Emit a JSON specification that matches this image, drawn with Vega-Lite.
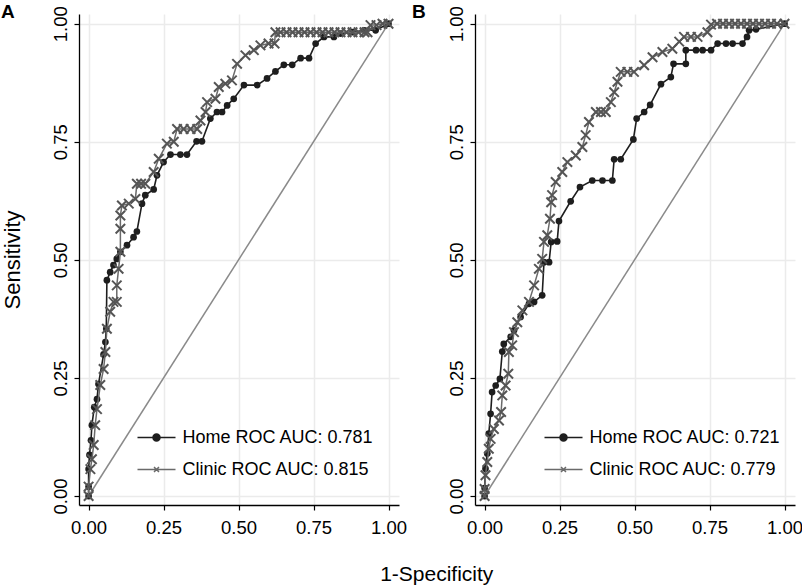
{
  "$schema": "https://vega.github.io/schema/vega-lite/v6.json",
  "background": "white",
  "padding": {"left": 0, "top": 2, "right": 0, "bottom": 2},
  "bounds": "flush",
  "spacing": 76,
  "config": {
    "font": "Liberation Sans",
    "view": {"stroke": null},
    "axis": {
      "domainColor": "#000", "domainWidth": 1.3,
      "tickColor": "#000", "tickSize": 5, "tickWidth": 1.2,
      "labelFontSize": 18.5, "labelColor": "#000", "labelFont": "Liberation Sans",
      "gridColor": "#ebebeb", "gridWidth": 1.5,
      "titleFontSize": 22, "titleFontWeight": "normal", "titleColor": "#000", "titleFont": "Liberation Sans"
    },
    "axisX": {"labelPadding": 8},
    "axisY": {"labelPadding": 4, "titlePadding": 27},
    "legend": {"labelFont": "Liberation Sans", "labelColor": "#000", "labelLimit": 0}
  },
  "title": {"text": "1-Specificity", "orient": "bottom", "anchor": "middle", "frame": "bounds", "dx": 35, "fontSize": 21, "fontWeight": "normal", "offset": 27, "color": "#000", "font": "Liberation Sans"},
  "datasets": {
    "A": [
      {"series":"Home","i":0,"fpr":0,"tpr":0},{"series":"Home","i":1,"fpr":0,"tpr":0.02},{"series":"Home","i":2,"fpr":0,"tpr":0.057},{"series":"Home","i":3,"fpr":0.003,"tpr":0.087},{"series":"Home","i":4,"fpr":0.008,"tpr":0.118},{"series":"Home","i":5,"fpr":0.011,"tpr":0.15},{"series":"Home","i":6,"fpr":0.019,"tpr":0.188},{"series":"Home","i":7,"fpr":0.028,"tpr":0.205},{"series":"Home","i":8,"fpr":0.033,"tpr":0.237},{"series":"Home","i":9,"fpr":0.05,"tpr":0.3},{"series":"Home","i":10,"fpr":0.056,"tpr":0.326},{"series":"Home","i":11,"fpr":0.059,"tpr":0.354},{"series":"Home","i":12,"fpr":0.061,"tpr":0.457},{"series":"Home","i":13,"fpr":0.072,"tpr":0.474},{"series":"Home","i":14,"fpr":0.083,"tpr":0.489},{"series":"Home","i":15,"fpr":0.094,"tpr":0.502},{"series":"Home","i":16,"fpr":0.106,"tpr":0.517},{"series":"Home","i":17,"fpr":0.128,"tpr":0.531},{"series":"Home","i":18,"fpr":0.15,"tpr":0.548},{"series":"Home","i":19,"fpr":0.161,"tpr":0.56},{"series":"Home","i":20,"fpr":0.178,"tpr":0.619},{"series":"Home","i":21,"fpr":0.189,"tpr":0.637},{"series":"Home","i":22,"fpr":0.217,"tpr":0.649},{"series":"Home","i":23,"fpr":0.228,"tpr":0.679},{"series":"Home","i":24,"fpr":0.25,"tpr":0.707},{"series":"Home","i":25,"fpr":0.273,"tpr":0.723},{"series":"Home","i":26,"fpr":0.306,"tpr":0.723},{"series":"Home","i":27,"fpr":0.328,"tpr":0.723},{"series":"Home","i":28,"fpr":0.36,"tpr":0.751},{"series":"Home","i":29,"fpr":0.378,"tpr":0.751},{"series":"Home","i":30,"fpr":0.406,"tpr":0.799},{"series":"Home","i":31,"fpr":0.428,"tpr":0.813},{"series":"Home","i":32,"fpr":0.445,"tpr":0.813},{"series":"Home","i":33,"fpr":0.462,"tpr":0.827},{"series":"Home","i":34,"fpr":0.484,"tpr":0.841},{"series":"Home","i":35,"fpr":0.518,"tpr":0.87},{"series":"Home","i":36,"fpr":0.562,"tpr":0.87},{"series":"Home","i":37,"fpr":0.595,"tpr":0.884},{"series":"Home","i":38,"fpr":0.623,"tpr":0.899},{"series":"Home","i":39,"fpr":0.651,"tpr":0.913},{"series":"Home","i":40,"fpr":0.679,"tpr":0.913},{"series":"Home","i":41,"fpr":0.707,"tpr":0.927},{"series":"Home","i":42,"fpr":0.735,"tpr":0.927},{"series":"Home","i":43,"fpr":0.757,"tpr":0.958},{"series":"Home","i":44,"fpr":0.785,"tpr":0.972},{"series":"Home","i":45,"fpr":0.818,"tpr":0.972},{"series":"Home","i":46,"fpr":0.84,"tpr":0.979},{"series":"Home","i":47,"fpr":0.88,"tpr":0.982},{"series":"Home","i":48,"fpr":0.92,"tpr":0.986},{"series":"Home","i":49,"fpr":0.957,"tpr":0.986},{"series":"Home","i":50,"fpr":1,"tpr":1},
      {"series":"Clinic","i":0,"fpr":0,"tpr":0},{"series":"Clinic","i":1,"fpr":0,"tpr":0.02},{"series":"Clinic","i":2,"fpr":0.006,"tpr":0.057},{"series":"Clinic","i":3,"fpr":0.011,"tpr":0.078},{"series":"Clinic","i":4,"fpr":0.017,"tpr":0.108},{"series":"Clinic","i":5,"fpr":0.022,"tpr":0.15},{"series":"Clinic","i":6,"fpr":0.028,"tpr":0.184},{"series":"Clinic","i":7,"fpr":0.039,"tpr":0.235},{"series":"Clinic","i":8,"fpr":0.05,"tpr":0.269},{"series":"Clinic","i":9,"fpr":0.056,"tpr":0.305},{"series":"Clinic","i":10,"fpr":0.061,"tpr":0.354},{"series":"Clinic","i":11,"fpr":0.072,"tpr":0.39},{"series":"Clinic","i":12,"fpr":0.083,"tpr":0.411},{"series":"Clinic","i":13,"fpr":0.094,"tpr":0.411},{"series":"Clinic","i":14,"fpr":0.094,"tpr":0.446},{"series":"Clinic","i":15,"fpr":0.1,"tpr":0.481},{"series":"Clinic","i":16,"fpr":0.106,"tpr":0.517},{"series":"Clinic","i":17,"fpr":0.106,"tpr":0.566},{"series":"Clinic","i":18,"fpr":0.106,"tpr":0.594},{"series":"Clinic","i":19,"fpr":0.111,"tpr":0.615},{"series":"Clinic","i":20,"fpr":0.134,"tpr":0.619},{"series":"Clinic","i":21,"fpr":0.156,"tpr":0.629},{"series":"Clinic","i":22,"fpr":0.161,"tpr":0.661},{"series":"Clinic","i":23,"fpr":0.175,"tpr":0.661},{"series":"Clinic","i":24,"fpr":0.189,"tpr":0.661},{"series":"Clinic","i":25,"fpr":0.217,"tpr":0.686},{"series":"Clinic","i":26,"fpr":0.234,"tpr":0.714},{"series":"Clinic","i":27,"fpr":0.261,"tpr":0.746},{"series":"Clinic","i":28,"fpr":0.284,"tpr":0.75},{"series":"Clinic","i":29,"fpr":0.295,"tpr":0.777},{"series":"Clinic","i":30,"fpr":0.317,"tpr":0.777},{"series":"Clinic","i":31,"fpr":0.34,"tpr":0.777},{"series":"Clinic","i":32,"fpr":0.362,"tpr":0.777},{"series":"Clinic","i":33,"fpr":0.373,"tpr":0.795},{"series":"Clinic","i":34,"fpr":0.39,"tpr":0.813},{"series":"Clinic","i":35,"fpr":0.395,"tpr":0.834},{"series":"Clinic","i":36,"fpr":0.423,"tpr":0.841},{"series":"Clinic","i":37,"fpr":0.434,"tpr":0.866},{"series":"Clinic","i":38,"fpr":0.456,"tpr":0.873},{"series":"Clinic","i":39,"fpr":0.478,"tpr":0.88},{"series":"Clinic","i":40,"fpr":0.495,"tpr":0.915},{"series":"Clinic","i":41,"fpr":0.523,"tpr":0.933},{"series":"Clinic","i":42,"fpr":0.551,"tpr":0.944},{"series":"Clinic","i":43,"fpr":0.573,"tpr":0.954},{"series":"Clinic","i":44,"fpr":0.6,"tpr":0.958},{"series":"Clinic","i":45,"fpr":0.62,"tpr":0.958},{"series":"Clinic","i":46,"fpr":0.623,"tpr":0.982},{"series":"Clinic","i":47,"fpr":0.64,"tpr":0.982},{"series":"Clinic","i":48,"fpr":0.66,"tpr":0.982},{"series":"Clinic","i":49,"fpr":0.68,"tpr":0.982},{"series":"Clinic","i":50,"fpr":0.7,"tpr":0.982},{"series":"Clinic","i":51,"fpr":0.72,"tpr":0.982},{"series":"Clinic","i":52,"fpr":0.74,"tpr":0.982},{"series":"Clinic","i":53,"fpr":0.76,"tpr":0.982},{"series":"Clinic","i":54,"fpr":0.78,"tpr":0.982},{"series":"Clinic","i":55,"fpr":0.8,"tpr":0.982},{"series":"Clinic","i":56,"fpr":0.82,"tpr":0.982},{"series":"Clinic","i":57,"fpr":0.84,"tpr":0.982},{"series":"Clinic","i":58,"fpr":0.86,"tpr":0.982},{"series":"Clinic","i":59,"fpr":0.88,"tpr":0.982},{"series":"Clinic","i":60,"fpr":0.9,"tpr":0.982},{"series":"Clinic","i":61,"fpr":0.92,"tpr":0.982},{"series":"Clinic","i":62,"fpr":0.93,"tpr":0.982},{"series":"Clinic","i":63,"fpr":0.94,"tpr":0.997},{"series":"Clinic","i":64,"fpr":0.96,"tpr":0.997},{"series":"Clinic","i":65,"fpr":0.98,"tpr":1},{"series":"Clinic","i":66,"fpr":1,"tpr":1}
    ],
    "B": [
      {"series":"Home","i":0,"fpr":0,"tpr":0},{"series":"Home","i":1,"fpr":0,"tpr":0.017},{"series":"Home","i":2,"fpr":0.003,"tpr":0.058},{"series":"Home","i":3,"fpr":0.009,"tpr":0.09},{"series":"Home","i":4,"fpr":0.014,"tpr":0.132},{"series":"Home","i":5,"fpr":0.02,"tpr":0.174},{"series":"Home","i":6,"fpr":0.025,"tpr":0.22},{"series":"Home","i":7,"fpr":0.037,"tpr":0.234},{"series":"Home","i":8,"fpr":0.051,"tpr":0.248},{"series":"Home","i":9,"fpr":0.059,"tpr":0.306},{"series":"Home","i":10,"fpr":0.064,"tpr":0.322},{"series":"Home","i":11,"fpr":0.087,"tpr":0.337},{"series":"Home","i":12,"fpr":0.098,"tpr":0.351},{"series":"Home","i":13,"fpr":0.12,"tpr":0.379},{"series":"Home","i":14,"fpr":0.148,"tpr":0.407},{"series":"Home","i":15,"fpr":0.165,"tpr":0.411},{"series":"Home","i":16,"fpr":0.192,"tpr":0.425},{"series":"Home","i":17,"fpr":0.198,"tpr":0.495},{"series":"Home","i":18,"fpr":0.215,"tpr":0.495},{"series":"Home","i":19,"fpr":0.222,"tpr":0.538},{"series":"Home","i":20,"fpr":0.242,"tpr":0.539},{"series":"Home","i":21,"fpr":0.248,"tpr":0.582},{"series":"Home","i":22,"fpr":0.287,"tpr":0.624},{"series":"Home","i":23,"fpr":0.318,"tpr":0.654},{"series":"Home","i":24,"fpr":0.359,"tpr":0.668},{"series":"Home","i":25,"fpr":0.393,"tpr":0.668},{"series":"Home","i":26,"fpr":0.426,"tpr":0.668},{"series":"Home","i":27,"fpr":0.432,"tpr":0.713},{"series":"Home","i":28,"fpr":0.454,"tpr":0.713},{"series":"Home","i":29,"fpr":0.496,"tpr":0.755},{"series":"Home","i":30,"fpr":0.507,"tpr":0.799},{"series":"Home","i":31,"fpr":0.532,"tpr":0.813},{"series":"Home","i":32,"fpr":0.552,"tpr":0.828},{"series":"Home","i":33,"fpr":0.588,"tpr":0.872},{"series":"Home","i":34,"fpr":0.621,"tpr":0.887},{"series":"Home","i":35,"fpr":0.63,"tpr":0.915},{"series":"Home","i":36,"fpr":0.671,"tpr":0.915},{"series":"Home","i":37,"fpr":0.671,"tpr":0.944},{"series":"Home","i":38,"fpr":0.705,"tpr":0.944},{"series":"Home","i":39,"fpr":0.727,"tpr":0.944},{"series":"Home","i":40,"fpr":0.755,"tpr":0.944},{"series":"Home","i":41,"fpr":0.777,"tpr":0.958},{"series":"Home","i":42,"fpr":0.805,"tpr":0.958},{"series":"Home","i":43,"fpr":0.827,"tpr":0.958},{"series":"Home","i":44,"fpr":0.86,"tpr":0.958},{"series":"Home","i":45,"fpr":0.875,"tpr":0.972},{"series":"Home","i":46,"fpr":0.882,"tpr":0.986},{"series":"Home","i":47,"fpr":0.905,"tpr":0.988},{"series":"Home","i":48,"fpr":1,"tpr":1},
      {"series":"Clinic","i":0,"fpr":0,"tpr":0},{"series":"Clinic","i":1,"fpr":0,"tpr":0.015},{"series":"Clinic","i":2,"fpr":0.003,"tpr":0.044},{"series":"Clinic","i":3,"fpr":0.009,"tpr":0.072},{"series":"Clinic","i":4,"fpr":0.014,"tpr":0.1},{"series":"Clinic","i":5,"fpr":0.02,"tpr":0.121},{"series":"Clinic","i":6,"fpr":0.031,"tpr":0.142},{"series":"Clinic","i":7,"fpr":0.048,"tpr":0.16},{"series":"Clinic","i":8,"fpr":0.055,"tpr":0.178},{"series":"Clinic","i":9,"fpr":0.059,"tpr":0.213},{"series":"Clinic","i":10,"fpr":0.07,"tpr":0.234},{"series":"Clinic","i":11,"fpr":0.079,"tpr":0.259},{"series":"Clinic","i":12,"fpr":0.081,"tpr":0.305},{"series":"Clinic","i":13,"fpr":0.092,"tpr":0.319},{"series":"Clinic","i":14,"fpr":0.098,"tpr":0.347},{"series":"Clinic","i":15,"fpr":0.109,"tpr":0.368},{"series":"Clinic","i":16,"fpr":0.126,"tpr":0.393},{"series":"Clinic","i":17,"fpr":0.148,"tpr":0.411},{"series":"Clinic","i":18,"fpr":0.165,"tpr":0.446},{"series":"Clinic","i":19,"fpr":0.181,"tpr":0.481},{"series":"Clinic","i":20,"fpr":0.192,"tpr":0.502},{"series":"Clinic","i":21,"fpr":0.198,"tpr":0.538},{"series":"Clinic","i":22,"fpr":0.209,"tpr":0.552},{"series":"Clinic","i":23,"fpr":0.218,"tpr":0.587},{"series":"Clinic","i":24,"fpr":0.222,"tpr":0.622},{"series":"Clinic","i":25,"fpr":0.225,"tpr":0.637},{"series":"Clinic","i":26,"fpr":0.237,"tpr":0.665},{"series":"Clinic","i":27,"fpr":0.259,"tpr":0.686},{"series":"Clinic","i":28,"fpr":0.276,"tpr":0.707},{"series":"Clinic","i":29,"fpr":0.304,"tpr":0.721},{"series":"Clinic","i":30,"fpr":0.326,"tpr":0.739},{"series":"Clinic","i":31,"fpr":0.337,"tpr":0.764},{"series":"Clinic","i":32,"fpr":0.348,"tpr":0.792},{"series":"Clinic","i":33,"fpr":0.371,"tpr":0.813},{"series":"Clinic","i":34,"fpr":0.388,"tpr":0.813},{"series":"Clinic","i":35,"fpr":0.404,"tpr":0.813},{"series":"Clinic","i":36,"fpr":0.421,"tpr":0.834},{"series":"Clinic","i":37,"fpr":0.432,"tpr":0.855},{"series":"Clinic","i":38,"fpr":0.443,"tpr":0.877},{"series":"Clinic","i":39,"fpr":0.454,"tpr":0.898},{"series":"Clinic","i":40,"fpr":0.476,"tpr":0.898},{"series":"Clinic","i":41,"fpr":0.498,"tpr":0.898},{"series":"Clinic","i":42,"fpr":0.532,"tpr":0.912},{"series":"Clinic","i":43,"fpr":0.56,"tpr":0.929},{"series":"Clinic","i":44,"fpr":0.593,"tpr":0.94},{"series":"Clinic","i":45,"fpr":0.626,"tpr":0.947},{"series":"Clinic","i":46,"fpr":0.649,"tpr":0.962},{"series":"Clinic","i":47,"fpr":0.665,"tpr":0.972},{"series":"Clinic","i":48,"fpr":0.688,"tpr":0.972},{"series":"Clinic","i":49,"fpr":0.71,"tpr":0.972},{"series":"Clinic","i":50,"fpr":0.743,"tpr":0.982},{"series":"Clinic","i":51,"fpr":0.755,"tpr":0.998},{"series":"Clinic","i":52,"fpr":0.775,"tpr":1},{"series":"Clinic","i":53,"fpr":0.795,"tpr":1},{"series":"Clinic","i":54,"fpr":0.815,"tpr":1},{"series":"Clinic","i":55,"fpr":0.835,"tpr":1},{"series":"Clinic","i":56,"fpr":0.855,"tpr":1},{"series":"Clinic","i":57,"fpr":0.875,"tpr":1},{"series":"Clinic","i":58,"fpr":0.895,"tpr":1},{"series":"Clinic","i":59,"fpr":0.915,"tpr":1},{"series":"Clinic","i":60,"fpr":0.935,"tpr":1},{"series":"Clinic","i":61,"fpr":0.955,"tpr":1},{"series":"Clinic","i":62,"fpr":0.975,"tpr":1},{"series":"Clinic","i":63,"fpr":1,"tpr":1}
    ],
    "diag": [{"fpr":0,"tpr":0},{"fpr":1,"tpr":1}]
  },
  "resolve": {"scale": {"x": "independent", "y": "independent", "fill": "independent", "stroke": "independent", "shape": "independent"}},
  "hconcat": [
    {
      "width": 320, "height": 491,
      "title": {"text": "A", "anchor": "start", "frame": "bounds", "fontSize": 19, "fontWeight": "bold", "offset": -16, "color": "#000", "font": "Liberation Sans"},
      "encoding": {
        "x": {"field": "fpr", "type": "quantitative", "scale": {"domain": [-0.032, 1.035], "nice": false, "zero": false}, "axis": {"values": [0, 0.25, 0.5, 0.75, 1], "format": ".2f", "title": null}},
        "y": {"field": "tpr", "type": "quantitative", "scale": {"domain": [-0.019, 1.0205], "nice": false, "zero": false}, "axis": {"values": [0, 0.25, 0.5, 0.75, 1], "format": ".2f", "title": "Sensitivity", "labelAngle": -90}}
      },
      "layer": [
        {"data": {"name": "diag"}, "mark": {"type": "line", "color": "#8a8a8a", "strokeWidth": 1.5}},
        {"data": {"name": "A"}, "transform": [{"filter": "datum.series == 'Home'"}], "mark": {"type": "line", "color": "#1e1e1e", "strokeWidth": 1.6}, "encoding": {"order": {"field": "i", "type": "quantitative"}}},
        {"data": {"name": "A"}, "transform": [{"filter": "datum.series == 'Home'"}], "mark": {"type": "point", "shape": "circle", "filled": true, "size": 45, "color": "#1e1e1e", "opacity": 1}},
        {"data": {"name": "A"}, "transform": [{"filter": "datum.series == 'Clinic'"}], "mark": {"type": "line", "color": "#6a6a6a", "strokeWidth": 1.5}, "encoding": {"order": {"field": "i", "type": "quantitative"}}},
        {"data": {"name": "A"}, "transform": [{"filter": "datum.series == 'Clinic'"}], "mark": {"type": "point", "shape": "M-1,-1L1,1M-1,1L1,-1", "filled": false, "size": 90, "color": "#555555", "strokeWidth": 2, "opacity": 1}},
        {"data": {"name": "A"}, "transform": [{"filter": "false"}], "mark": {"type": "point", "strokeWidth": 1.5, "opacity": 1},
         "encoding": {
           "fill": {"field": "series", "type": "nominal", "scale": {"domain": ["Home", "Clinic"], "range": ["#1e1e1e", "#6a6a6a"]}, "legend": {"orient": "none", "legendX": 61, "legendY": 407, "title": null, "symbolSize": 961, "labelFontSize": 18, "labelOffset": 9.5, "rowPadding": 6, "symbolStrokeWidth": 1.5, "labelLimit": 0, "labelExpr": "datum.label == 'Home' ? 'Home ROC AUC: 0.781' : 'Clinic ROC AUC: 0.815'"}},
           "stroke": {"field": "series", "type": "nominal", "scale": {"domain": ["Home", "Clinic"], "range": ["#1e1e1e", "#6a6a6a"]}},
           "shape": {"field": "series", "type": "nominal", "scale": {"domain": ["Home", "Clinic"], "range": ["M-1.226,0L1.226,0M0.226,0A0.226,0.226,0,1,1,-0.226,0A0.226,0.226,0,1,1,0.226,0Z", "M-1.226,0L1.226,0M-0.16,-0.16L0.16,0.16M-0.16,0.16L0.16,-0.16"]}}
         }}
      ]
    },
    {
      "width": 320, "height": 491,
      "title": {"text": "B", "anchor": "start", "frame": "bounds", "fontSize": 19, "fontWeight": "bold", "offset": -16, "dx": -35, "color": "#000", "font": "Liberation Sans"},
      "encoding": {
        "x": {"field": "fpr", "type": "quantitative", "scale": {"domain": [-0.032, 1.035], "nice": false, "zero": false}, "axis": {"values": [0, 0.25, 0.5, 0.75, 1], "format": ".2f", "title": null}},
        "y": {"field": "tpr", "type": "quantitative", "scale": {"domain": [-0.019, 1.0205], "nice": false, "zero": false}, "axis": {"values": [0, 0.25, 0.5, 0.75, 1], "format": ".2f", "title": null, "labelAngle": -90}}
      },
      "layer": [
        {"data": {"name": "diag"}, "mark": {"type": "line", "color": "#8a8a8a", "strokeWidth": 1.5}},
        {"data": {"name": "B"}, "transform": [{"filter": "datum.series == 'Home'"}], "mark": {"type": "line", "color": "#1e1e1e", "strokeWidth": 1.6}, "encoding": {"order": {"field": "i", "type": "quantitative"}}},
        {"data": {"name": "B"}, "transform": [{"filter": "datum.series == 'Home'"}], "mark": {"type": "point", "shape": "circle", "filled": true, "size": 45, "color": "#1e1e1e", "opacity": 1}},
        {"data": {"name": "B"}, "transform": [{"filter": "datum.series == 'Clinic'"}], "mark": {"type": "line", "color": "#6a6a6a", "strokeWidth": 1.5}, "encoding": {"order": {"field": "i", "type": "quantitative"}}},
        {"data": {"name": "B"}, "transform": [{"filter": "datum.series == 'Clinic'"}], "mark": {"type": "point", "shape": "M-1,-1L1,1M-1,1L1,-1", "filled": false, "size": 90, "color": "#555555", "strokeWidth": 2, "opacity": 1}},
        {"data": {"name": "B"}, "transform": [{"filter": "false"}], "mark": {"type": "point", "strokeWidth": 1.5, "opacity": 1},
         "encoding": {
           "fill": {"field": "series", "type": "nominal", "scale": {"domain": ["Home", "Clinic"], "range": ["#1e1e1e", "#6a6a6a"]}, "legend": {"orient": "none", "legendX": 72, "legendY": 407, "title": null, "symbolSize": 961, "labelFontSize": 18, "labelOffset": 9.5, "rowPadding": 6, "symbolStrokeWidth": 1.5, "labelLimit": 0, "labelExpr": "datum.label == 'Home' ? 'Home ROC AUC: 0.721' : 'Clinic ROC AUC: 0.779'"}},
           "stroke": {"field": "series", "type": "nominal", "scale": {"domain": ["Home", "Clinic"], "range": ["#1e1e1e", "#6a6a6a"]}},
           "shape": {"field": "series", "type": "nominal", "scale": {"domain": ["Home", "Clinic"], "range": ["M-1.226,0L1.226,0M0.226,0A0.226,0.226,0,1,1,-0.226,0A0.226,0.226,0,1,1,0.226,0Z", "M-1.226,0L1.226,0M-0.16,-0.16L0.16,0.16M-0.16,0.16L0.16,-0.16"]}}
         }}
      ]
    }
  ]
}
